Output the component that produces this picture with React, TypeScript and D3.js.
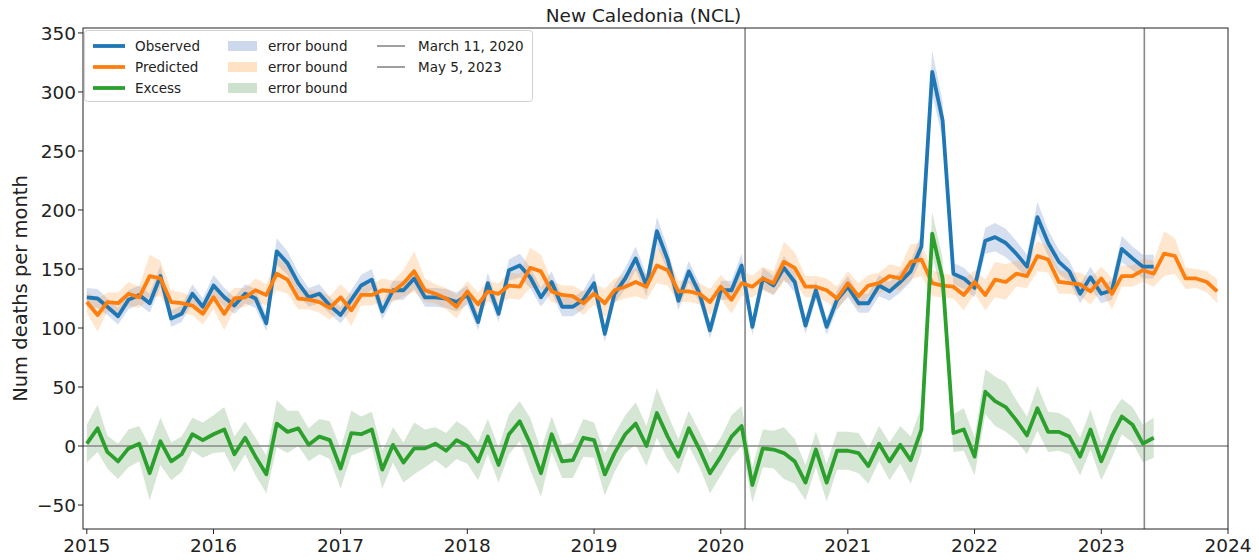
import React from "react";
import * as d3 from "d3";

const width = 1259;
const height = 560;
const margin = { top: 28, right: 31, bottom: 31, left: 83 };

const title = "New Caledonia (NCL)";
const yLabel = "Num deaths per month";
const yTicks = [-50, 0, 50, 100, 150, 200, 250, 300, 350];
const xTickYears = [2015, 2016, 2017, 2018, 2019, 2020, 2021, 2022, 2023, 2024];

// monthly values starting January 2015
const observed = [
  126, 125, 118, 110, 124, 128, 121, 144, 108, 112, 129, 118,
  136, 126, 119, 129, 125, 104, 165, 155, 138, 126, 129, 119,
  111, 124, 136, 141, 114, 132, 132, 142, 126, 126, 125, 122,
  128, 105, 138, 112, 149, 153, 143, 126, 139, 118, 118, 124,
  138, 95, 129, 142, 159, 136, 182, 158, 123, 148, 129, 98,
  132, 132, 153, 101, 142, 136, 151, 139, 102, 132, 101, 124,
  135, 121, 121, 136, 131, 139, 148, 169, 317, 276, 146, 142,
  134, 174, 177, 172, 163, 152, 194, 172, 156, 148, 129, 143,
  129, 132, 167, 159, 152, 152,
];
const observedErr = [
  8, 8, 7, 7, 8, 8, 8, 9, 7, 7, 8, 7,
  9, 8, 7, 8, 8, 7, 11, 10, 9, 8, 8, 7,
  7, 8, 9, 9, 7, 8, 8, 9, 8, 8, 8, 8,
  8, 7, 9, 7, 9, 10, 9, 8, 9, 8, 8, 8,
  9, 7, 8, 9, 10, 9, 12, 10, 8, 9, 8, 7,
  8, 8, 10, 7, 9, 8, 10, 9, 7, 8, 7, 8,
  9, 8, 8, 9, 8, 9, 9, 11, 18, 16, 9, 9,
  8, 11, 12, 12, 11, 10, 13, 11, 10, 9, 8, 9,
  8, 8, 11, 10, 10, 10,
];
const predicted = [
  122, 111, 122, 121, 129, 126, 144, 142, 122, 121, 119, 112,
  126, 112, 125, 126, 132, 128, 146, 141, 125, 124, 122, 117,
  126, 115, 128, 128, 132, 131, 138, 148, 132, 129, 125, 118,
  131, 120, 131, 129, 136, 135, 151, 148, 131, 128, 127, 121,
  129, 121, 132, 135, 139, 135, 153, 149, 131, 131, 129, 122,
  135, 124, 138, 135, 142, 138, 156, 151, 135, 135, 132, 125,
  138, 127, 136, 138, 144, 142, 156, 158, 138, 136, 135, 128,
  139, 128, 141, 139, 146, 144, 161, 158, 139, 138, 137, 131,
  142, 129, 144, 144, 149, 146, 163, 161, 142, 142, 139, 131,
];
const predictedErr = [
  9, 14, 8, 9, 10, 9, 18, 15, 10, 9, 8, 9,
  10, 14, 9, 8, 10, 9, 14, 12, 9, 8, 9, 10,
  11, 13, 9, 9, 10, 9, 11, 17, 10, 8, 9, 10,
  9, 10, 9, 9, 11, 11, 17, 14, 9, 8, 9, 10,
  9, 12, 10, 10, 12, 11, 15, 13, 9, 9, 9, 11,
  10, 12, 11, 9, 10, 10, 17, 13, 9, 9, 10, 10,
  10, 11, 9, 9, 10, 10, 15, 14, 11, 10, 10, 13,
  10, 13, 15, 15, 11, 10, 13, 11, 10, 9, 10, 11,
  10, 13, 9, 9, 10, 11, 19, 15, 9, 8, 9, 10,
];
const excess = [
  2, 15, -5, -13, -2, 2, -23, 4, -13, -7, 10, 5,
  10, 14, -7, 7, -9, -24, 19, 12, 15, 1, 8, 5,
  -19, 11, 10, 14, -20, 1, -14, -2, -2, 2, -4, 5,
  0, -13, 8, -16, 10, 21, 2, -23, 10, -13, -12, 7,
  5, -24, -6, 10, 19, 0, 28, 8, -9, 15, -3, -23,
  -9, 8, 17, -33, -2, -3, -6, -13, -31, -3, -31, -4,
  -4, -6, -17, 2, -13, 1, -12, 14, 180, 142, 11, 14,
  -9, 46, 38, 33, 22, 9, 32, 12, 12, 8, -9, 14,
  -13, 9, 25, 18, 2, 7,
];
const excessErr = [
  16, 20, 14, 15, 16, 15, 23, 20, 16, 15, 14, 15,
  16, 19, 15, 14, 16, 16, 20, 18, 15, 14, 15, 16,
  17, 19, 15, 15, 16, 15, 17, 22, 16, 14, 15, 16,
  15, 16, 15, 15, 17, 17, 22, 20, 15, 14, 15, 16,
  15, 18, 16, 16, 18, 17, 21, 19, 15, 15, 15, 17,
  16, 18, 17, 15, 16, 16, 22, 19, 15, 15, 16, 16,
  16, 17, 15, 15, 16, 16, 20, 19, 18, 17, 16, 18,
  16, 19, 21, 21, 17, 16, 19, 17, 16, 15, 16, 17,
  16, 19, 15, 15, 16, 17,
];

const markerDates = [
  { label: "March 11, 2020", date: new Date(Date.UTC(2020, 2, 11)) },
  { label: "May 5, 2023", date: new Date(Date.UTC(2023, 4, 5)) },
];

const colors = { observed: "#1f77b4", predicted: "#ff7f0e", excess: "#2ca02c" };
const bandColors = { observed: "#5b7fc4", predicted: "#ff9a3c", excess: "#5a9a55" };
const font = "DejaVu Sans, Verdana, sans-serif";

type Pt = { date: Date; v: number; e: number };

const months = d3.utcMonth.range(new Date(Date.UTC(2015, 0, 1)), new Date(Date.UTC(2024, 0, 1)));
const toPts = (vals: number[], errs: number[]): Pt[] =>
  vals.map((v, i) => ({ date: months[i], v, e: errs[i] }));

const App: React.FC = () => {
  const x = d3
    .scaleUtc()
    .domain([new Date(Date.UTC(2014, 11, 21)), new Date(Date.UTC(2024, 0, 1))])
    .range([margin.left, width - margin.right]);
  const y = d3
    .scaleLinear()
    .domain([-70.3, 354.2])
    .range([height - margin.bottom, margin.top]);

  const line = d3
    .line<Pt>()
    .x((d) => x(d.date))
    .y((d) => y(d.v));
  const band = d3
    .area<Pt>()
    .x((d) => x(d.date))
    .y0((d) => y(d.v - d.e))
    .y1((d) => y(d.v + d.e));

  const series = [
    { key: "observed", pts: toPts(observed, observedErr), color: colors.observed, band: bandColors.observed },
    { key: "predicted", pts: toPts(predicted, predictedErr), color: colors.predicted, band: bandColors.predicted },
    { key: "excess", pts: toPts(excess, excessErr), color: colors.excess, band: bandColors.excess },
  ];

  const x0 = margin.left;
  const x1 = width - margin.right;
  const y0 = height - margin.bottom;
  const y1 = margin.top;

  const legendRows = [
    { label: "Observed", color: colors.observed, band: bandColors.observed },
    { label: "Predicted", color: colors.predicted, band: bandColors.predicted },
    { label: "Excess", color: colors.excess, band: bandColors.excess },
  ];

  return (
    <svg width={width} height={height} style={{ position: "absolute", left: 0, top: 0, background: "#fff" }}>
      <defs>
        <clipPath id="plot">
          <rect x={x0} y={y1} width={x1 - x0} height={y0 - y1} />
        </clipPath>
      </defs>
      <text x={(x0 + x1) / 2 - 12} y={22} textAnchor="middle" fontFamily={font} fontSize={18.5} fill="#222">
        {title}
      </text>

      <g clipPath="url(#plot)">
        {series.map((s) => (
          <path key={s.key + "b"} d={band(s.pts) ?? ""} fill={s.band} fillOpacity={0.25} />
        ))}
        <line x1={x0} x2={x1} y1={y(0)} y2={y(0)} stroke="#888" strokeWidth={1.6} />
        {markerDates.map((m) => (
          <line key={m.label} x1={x(m.date)} x2={x(m.date)} y1={y1} y2={y0} stroke="#888" strokeWidth={1.6} />
        ))}
        {series.map((s) => (
          <path
            key={s.key}
            d={line(s.pts) ?? ""}
            fill="none"
            stroke={s.color}
            strokeWidth={3.8}
            strokeLinejoin="round"
          />
        ))}
      </g>

      <rect x={x0} y={y1} width={x1 - x0} height={y0 - y1} fill="none" stroke="#222" strokeWidth={1} />

      {yTicks.map((t) => (
        <g key={t} transform={`translate(0,${y(t)})`}>
          <line x1={x0 - 5} x2={x0} stroke="#222" />
          <text x={x0 - 7} dy="0.36em" textAnchor="end" fontFamily={font} fontSize={18.5} fill="#222">
            {t < 0 ? "\u2212" + Math.abs(t) : t}
          </text>
        </g>
      ))}
      {xTickYears.map((yr) => {
        const px = x(new Date(Date.UTC(yr, 0, 1)));
        return (
          <g key={yr} transform={`translate(${px},0)`}>
            <line y1={y0} y2={y0 + 5} stroke="#222" />
            <text y={y0 + 23} textAnchor="middle" fontFamily={font} fontSize={18.5} fill="#222">
              {yr}
            </text>
          </g>
        );
      })}
      <text
        transform={`translate(27,${(y0 + y1) / 2 + 10}) rotate(-90)`}
        textAnchor="middle"
        fontFamily={font}
        fontSize={19.5}
        fill="#222"
      >
        {yLabel}
      </text>

      <g fontFamily={font} fontSize={13.5} fill="#222">
        <rect x={84.5} y={30.5} width={448} height={71} rx={3} fill="#fff" fillOpacity={0.85} stroke="#d0d0d0" />
        {legendRows.map((r, i) => (
          <g key={r.label} transform={`translate(0,${46 + i * 21})`}>
            <line x1={93} x2={125} stroke={r.color} strokeWidth={3.8} />
            <text x={135} dy="0.35em">{r.label}</text>
            <rect x={228} y={-5} width={29} height={10} fill={r.band} fillOpacity={0.3} />
            <text x={268} dy="0.35em">error bound</text>
          </g>
        ))}
        {markerDates.map((m, i) => (
          <g key={m.label} transform={`translate(0,${46 + i * 21})`}>
            <line x1={377} x2={405} stroke="#888" strokeWidth={1.6} />
            <text x={418} dy="0.35em">{m.label}</text>
          </g>
        ))}
      </g>
    </svg>
  );
};

export default App;
